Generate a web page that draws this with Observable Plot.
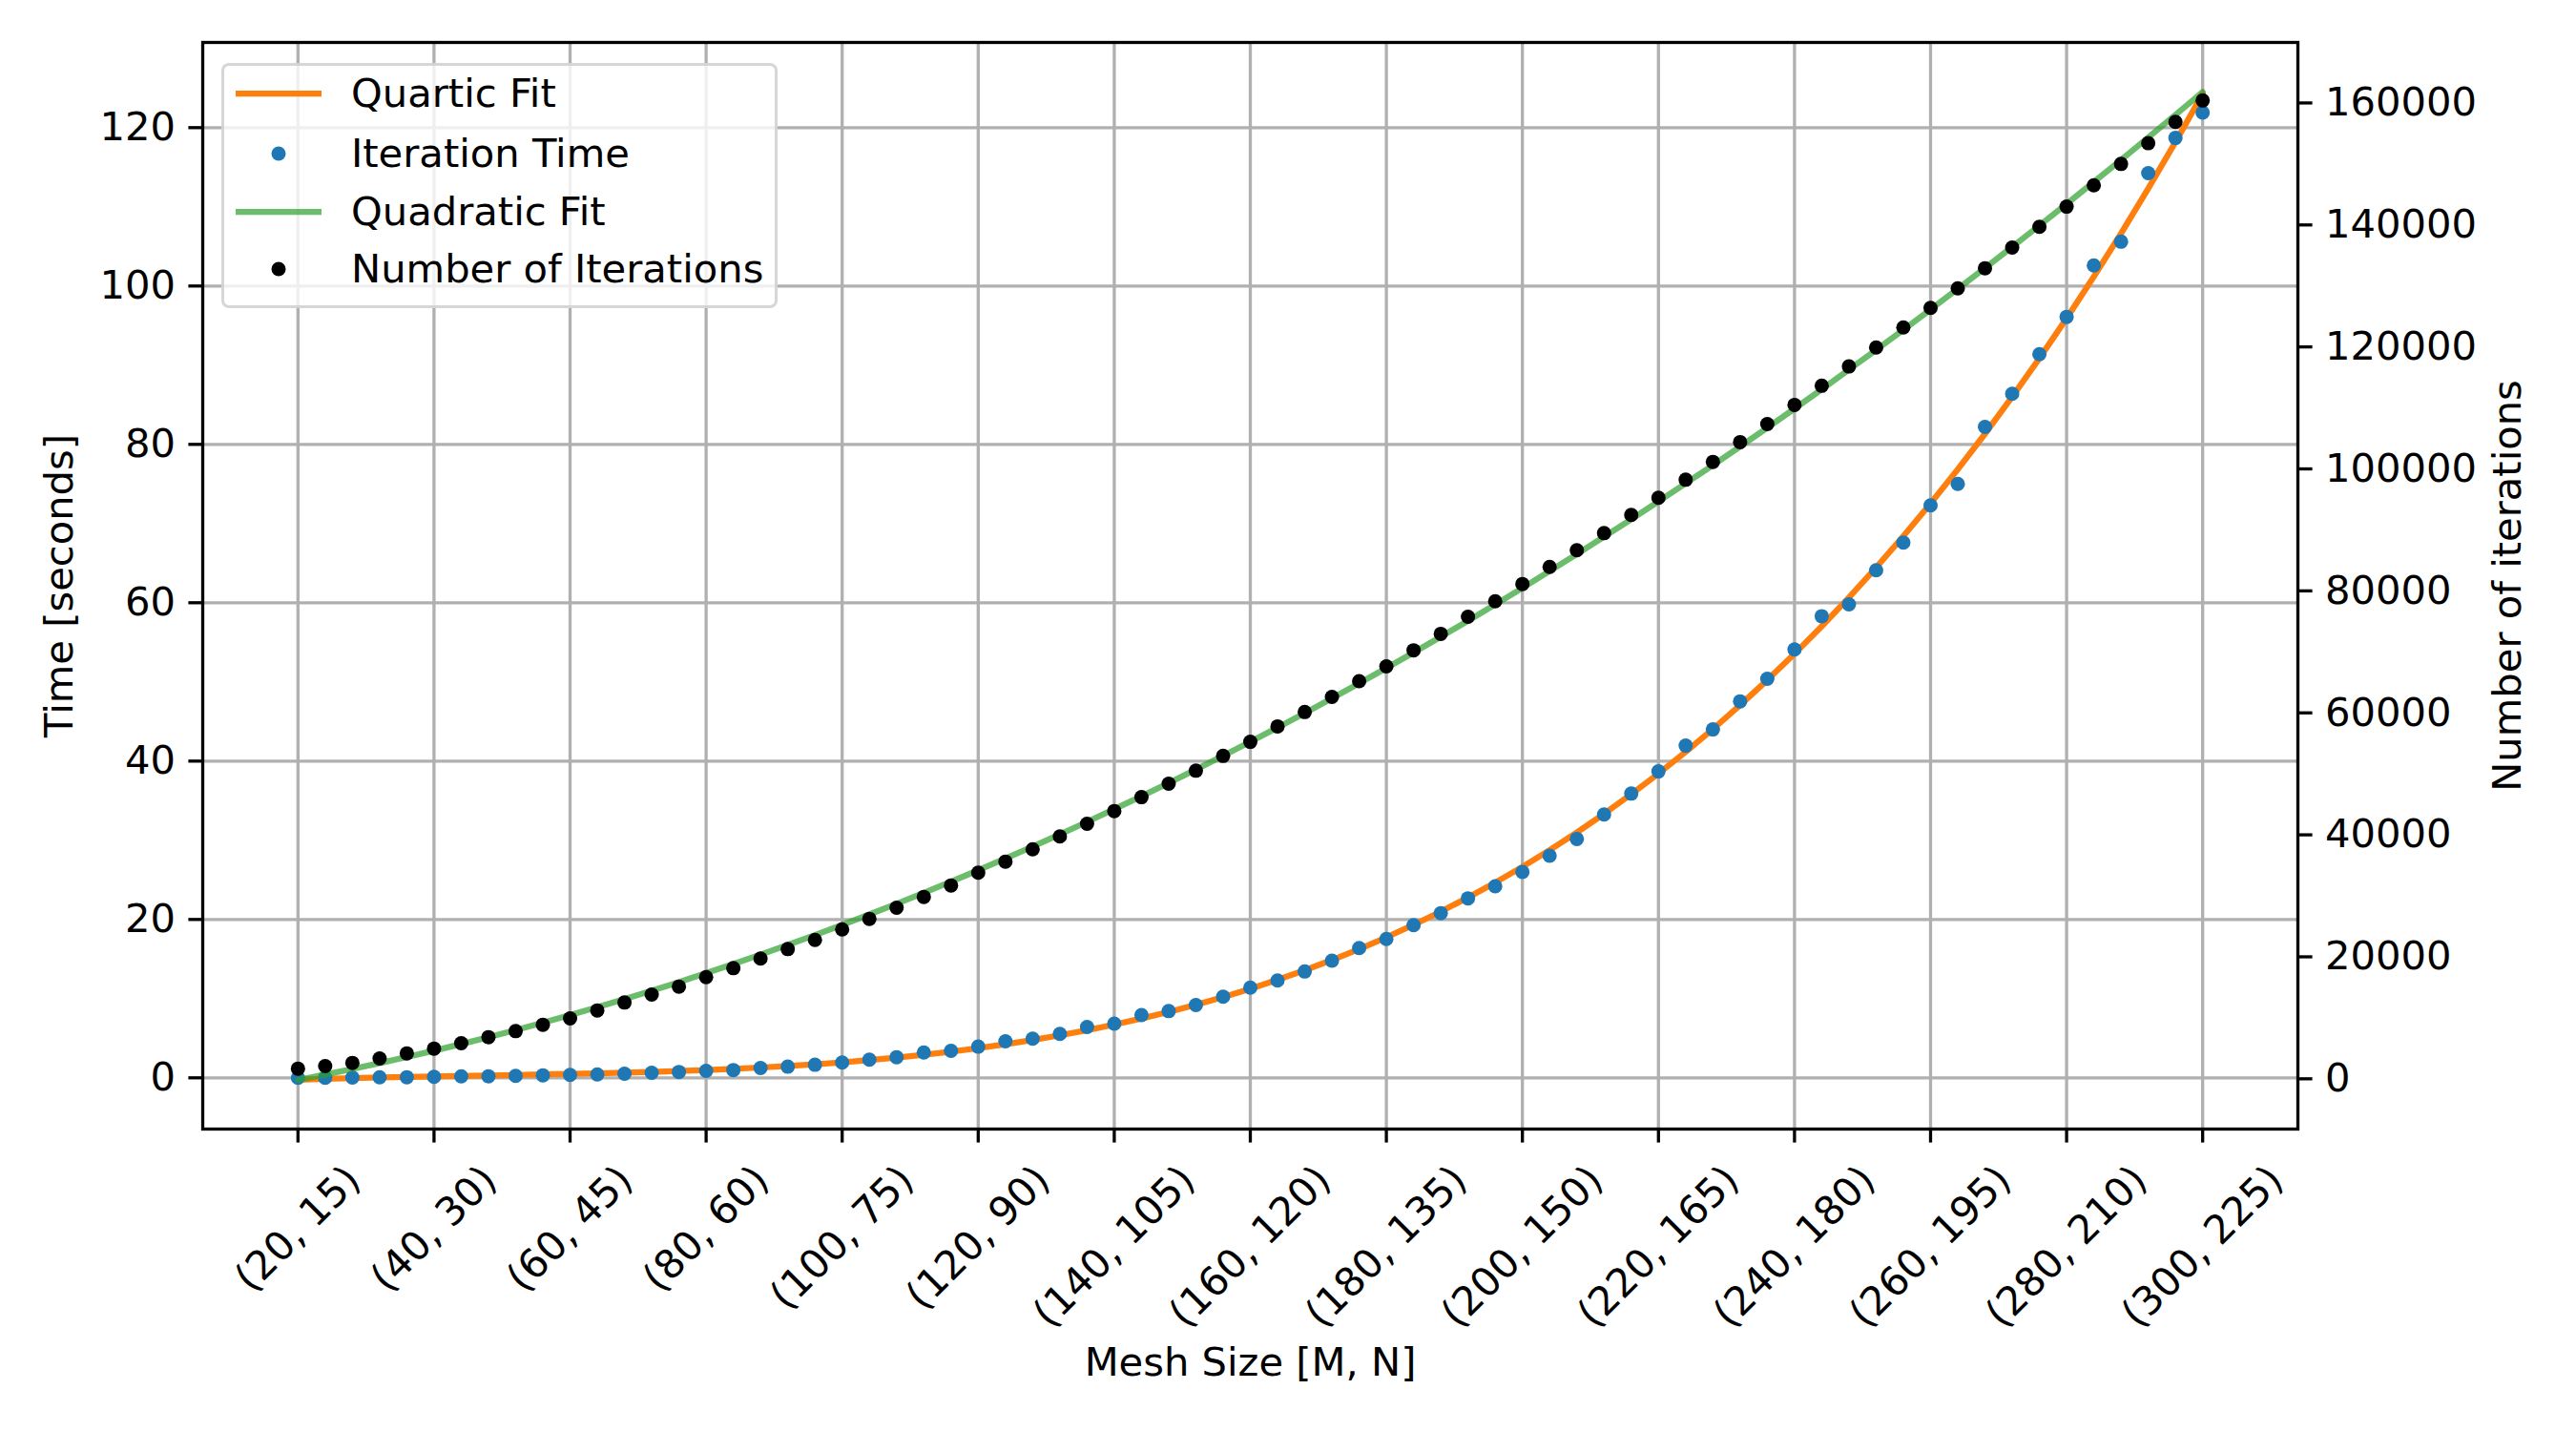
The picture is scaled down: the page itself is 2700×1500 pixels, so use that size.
<!DOCTYPE html>
<html><head><meta charset="utf-8">
<script src="https://cdn.jsdelivr.net/npm/d3@7"></script>
<script src="https://cdn.jsdelivr.net/npm/@observablehq/plot@0.6"></script>
<style>
html,body{margin:0;padding:0;background:#fff;}
#wrap{position:relative;width:2700px;height:1500px;font-family:"DejaVu Sans";color:#000;}
#wrap svg.plotsvg{position:absolute;left:0;top:0;}
#legend{position:absolute;left:232px;top:66px;width:583px;height:257px;box-sizing:border-box;
  border:3.3px solid rgba(204,204,204,0.8);border-radius:8px;background:rgba(255,255,255,0.8);}
.row{position:absolute;left:0;height:62px;font-size:41.67px;white-space:nowrap;}
.handle{position:absolute;left:11.7px;top:0;width:90px;height:62px;}
.lab{position:absolute;left:133px;top:0;line-height:62px;}
</style></head><body><div id="wrap"></div>
<script>
// ---- data ----
const meshM = [20,24,28,32,36,40,44,48,52,56,60,64,68,72,76,80,84,88,92,96,100,104,108,112,116,120,124,128,132,136,140,144,148,152,156,160,164,168,172,176,180,184,188,192,196,200,204,208,212,216,220,224,228,232,236,240,244,248,252,256,260,264,268,272,276,280,284,288,292,296,300];
const iterTime = [0.00,0.02,0.04,0.06,0.08,0.12,0.18,0.20,0.24,0.32,0.36,0.42,0.52,0.64,0.74,0.88,0.98,1.24,1.41,1.65,1.93,2.29,2.61,3.20,3.41,3.94,4.62,4.94,5.54,6.43,6.85,7.92,8.43,9.19,10.25,11.40,12.29,13.43,14.79,16.40,17.54,19.28,20.80,22.67,24.20,26.00,28.05,30.17,33.26,35.90,38.70,41.95,44.00,47.55,50.40,54.10,58.30,59.80,64.10,67.60,72.30,75.00,82.20,86.40,91.40,96.10,102.60,105.60,114.25,118.70,121.90];
const iterCount = [1670,2090,2610,3340,4170,4950,5840,6830,7820,8860,9910,11210,12510,13820,15120,16680,18140,19710,21270,22780,24500,26230,28050,29820,31700,33790,35610,37640,39730,41810,43900,46180,48380,50520,52940,55250,57780,60140,62620,65200,67620,70260,72960,75750,78300,81130,83940,86660,89470,92450,95260,98230,101150,104400,107350,110500,113630,116800,119900,123200,126400,129600,132900,136300,139700,143000,146500,150000,153400,156900,160400];
const xTicks = [20,40,60,80,100,120,140,160,180,200,220,240,260,280,300];
const xTickLabels = ["(20, 15)","(40, 30)","(60, 45)","(80, 60)","(100, 75)","(120, 90)","(140, 105)","(160, 120)","(180, 135)","(200, 150)","(220, 165)","(240, 180)","(260, 195)","(280, 210)","(300, 225)"];
const timeTicks = [0,20,40,60,80,100,120];
const countTicks = [0,20000,40000,60000,80000,100000,120000,140000,160000];
const legendItems = ["Quartic Fit","Iteration Time","Quadratic Fit","Number of Iterations"];

// least-squares polynomial fit (as in the original: np.polyfit), evaluated at the mesh sizes
function polyfit(xs, ys, deg) {
  const c = 160, s = 140, n = deg + 1;
  const A = Array.from({length:n}, () => new Array(n + 1).fill(0));
  xs.forEach((x, k) => {
    const t = (x - c) / s;
    const p = []; for (let i = 0; i < n; i++) p.push(Math.pow(t, i));
    for (let i = 0; i < n; i++) { for (let j = 0; j < n; j++) A[i][j] += p[i] * p[j]; A[i][n] += p[i] * ys[k]; }
  });
  for (let i = 0; i < n; i++) {
    let m = i; for (let r = i + 1; r < n; r++) if (Math.abs(A[r][i]) > Math.abs(A[m][i])) m = r;
    [A[i], A[m]] = [A[m], A[i]];
    for (let r = 0; r < n; r++) if (r !== i) { const f = A[r][i] / A[i][i]; for (let j = i; j <= n; j++) A[r][j] -= f * A[i][j]; }
  }
  const coef = A.map((row, i) => row[n] / row[i]);
  return x => { const t = (x - c) / s; return coef.reduce((acc, a, i) => acc + a * Math.pow(t, i), 0); };
}
const quarticFit = polyfit(meshM, iterTime, 4);
const quadraticFit = polyfit(meshM, iterCount, 2);

const timeData = meshM.map((m, i) => ({M: m, t: iterTime[i], fit: quarticFit(m)}));
const countData = meshM.map((m, i) => ({M: m, n: iterCount[i], fit: quadraticFit(m)}));

const FS = 41.67, LW = 3.3, TICK = 14.6;
const W = 2700, H = 1500;
const margins = {marginLeft: 212, marginRight: 292, marginTop: 44, marginBottom: 317};
const xDomain = [6, 314];
const orange = "#ff7f0e", blue = "#1f77b4", green = "#2ca02c";

// text width for matplotlib-like centred rotated tick labels
const ctx = document.createElement("canvas").getContext("2d");
ctx.font = `${FS}px "DejaVu Sans"`;
const tickLabelMarks = xTicks.map((t, i) => {
  const L = ctx.measureText(xTickLabels[i]).width;
  const dy = TICK + 14.6 + (L + 48.5) * 0.35355;
  return Plot.text([{M: t, label: xTickLabels[i]}], {x: "M", text: "label", frameAnchor: "bottom", dy,
    rotate: -45, textAnchor: "middle", lineAnchor: "middle", fontSize: FS, fill: "black"});
});

const svgStyle = {fontFamily: "DejaVu Sans", fontSize: FS + "px", color: "black", background: "transparent", overflow: "visible"};

const bottomPlot = Plot.plot({
  width: W, height: H, ...margins, style: svgStyle,
  x: {domain: xDomain},
  y: {domain: [-6.47, 130.76]},
  marks: [
    Plot.gridX(xTicks, {stroke: "#b0b0b0", strokeOpacity: 1, strokeWidth: LW}),
    Plot.gridY(timeTicks, {stroke: "#b0b0b0", strokeOpacity: 1, strokeWidth: LW}),
    Plot.line(timeData, {x: "M", y: "fit", stroke: orange, strokeWidth: 6.25}),
    Plot.dot(timeData, {x: "M", y: "t", r: 7.5, fill: blue}),
    Plot.axisY(timeTicks, {anchor: "left", tickSize: TICK, tickPadding: 14, strokeWidth: LW, fontSize: FS, label: null, tickFormat: d => String(d)}),
    Plot.axisX(xTicks, {anchor: "bottom", tickSize: TICK, strokeWidth: LW, label: null, tickFormat: () => ""}),
    ...tickLabelMarks,
    Plot.text(["Time [seconds]"], {text: d => d, frameAnchor: "left", dx: -149.5, rotate: -90, textAnchor: "middle", lineAnchor: "middle", fontSize: FS, fill: "black"}),
    Plot.text(["Mesh Size [M, N]"], {text: d => d, frameAnchor: "bottom", dy: 245, textAnchor: "middle", lineAnchor: "middle", fontSize: FS, fill: "black"})
  ]
});

const topPlot = Plot.plot({
  width: W, height: H, ...margins, style: svgStyle,
  x: {domain: xDomain, axis: null},
  y: {domain: [-8240, 169920], axis: null},
  marks: [
    Plot.line(countData, {x: "M", y: "fit", stroke: green, strokeOpacity: 0.7, strokeWidth: 6.25}),
    Plot.dot(countData, {x: "M", y: "n", r: 7.5, fill: "black"}),
    Plot.axisY(countTicks, {anchor: "right", tickSize: TICK, tickPadding: 14, strokeWidth: LW, fontSize: FS, label: null, tickFormat: d3.format("d")}),
    Plot.frame({stroke: "black", strokeWidth: LW}),
    Plot.text(["Number of iterations"], {text: d => d, frameAnchor: "right", dx: 220, rotate: -90, textAnchor: "middle", lineAnchor: "middle", fontSize: FS, fill: "black"})
  ]
});

const wrap = document.getElementById("wrap");
bottomPlot.classList.add("plotsvg");
topPlot.classList.add("plotsvg");
wrap.appendChild(bottomPlot);
wrap.appendChild(topPlot);

// legend
const legend = document.createElement("div");
legend.id = "legend";
const rowCenters = [32, 95, 156, 216];
const handles = [
  `<svg class="handle" width="90" height="62"><line x1="0" x2="90" y1="31" y2="31" stroke="${orange}" stroke-width="6.25"/></svg>`,
  `<svg class="handle" width="90" height="62"><circle cx="45" cy="31" r="7.5" fill="${blue}"/></svg>`,
  `<svg class="handle" width="90" height="62"><line x1="0" x2="90" y1="31" y2="31" stroke="${green}" stroke-opacity="0.7" stroke-width="6.25"/></svg>`,
  `<svg class="handle" width="90" height="62"><circle cx="45" cy="31" r="7.5" fill="black"/></svg>`
];
legendItems.forEach((name, i) => {
  const row = document.createElement("div");
  row.className = "row";
  row.style.top = (rowCenters[i] - 31 - 3.3) + "px";
  row.style.width = "570px";
  row.innerHTML = handles[i] + `<span class="lab">${name}</span>`;
  legend.appendChild(row);
});
wrap.appendChild(legend);
</script></body></html>
